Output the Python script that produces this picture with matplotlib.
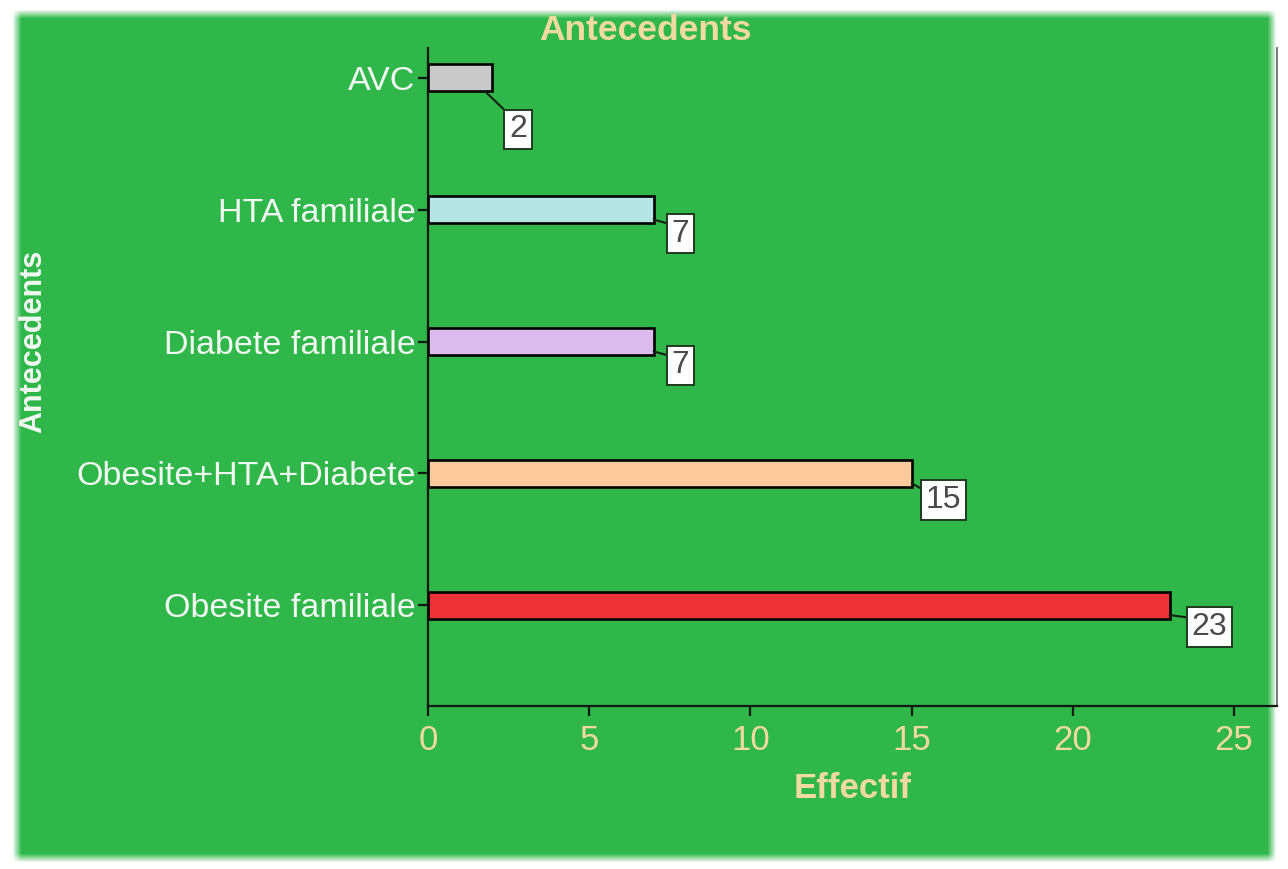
import numpy as np
import matplotlib
matplotlib.use("Agg")
import matplotlib.pyplot as plt

# Data
categories = ["Obesite familiale", "Obesite+HTA+Diabete", "Diabete familiale",
              "HTA familiale", "AVC"]
effectifs = [23, 15, 7, 7, 2]
bar_colors = ["#ee3338", "#fdcb9b", "#dcbcee", "#b5e5e5", "#c9c9c9"]
x_ticks = [0, 5, 10, 15, 20, 25]

# Label box offsets from the leader anchor point (pixels, right / down)
label_offsets_px = [(40, -12), (32, -17), (27, -14), (27, -14), (33, -38)]

W, H, DPI = 1288, 869, 100
GREEN = "#2fb749"
TAN = "#f3d9a2"
WHITE_TXT = "#f2f8f2"

plt.rcParams["font.family"] = ["Liberation Sans", "DejaVu Sans"]

fig = plt.figure(figsize=(W / DPI, H / DPI), dpi=DPI, facecolor="white")

# Green panel with feathered edges
bg = fig.add_axes([0, 0, 1, 1], zorder=-10)
bg.set_axis_off()
xs = np.arange(W) + 0.5
ys = np.arange(H) + 0.5


def ramp(v, lo, hi, feather=9.0):
    a = np.clip((v - (lo - feather / 2)) / feather, 0, 1)
    b = np.clip(((hi + feather / 2) - v) / feather, 0, 1)
    return a * b


alpha = np.outer(ramp(ys, 14, 858), ramp(xs, 17, 1272))
rgb = np.array(matplotlib.colors.to_rgb(GREEN))
img = np.ones((H, W, 4))
img[..., :3] = rgb
img[..., 3] = alpha
bg.imshow(img, extent=(0, W, H, 0), aspect="auto", interpolation="bilinear")
bg.set_xlim(0, W)
bg.set_ylim(H, 0)

# Plot area
left, right, top, bottom = 428, 1277, 48, 706
ax = fig.add_axes([left / W, (H - bottom) / H, (right - left) / W, (bottom - top) / H])
ax.patch.set_alpha(0)

pos = np.arange(len(categories))
bar_h = 0.205
ax.barh(pos, effectifs, height=bar_h, color=bar_colors, edgecolor="black",
        linewidth=1.9, zorder=3)

ax.set_xlim(0, 26.33)
ax.set_ylim(-0.765, 4.227)
ax.set_xticks(x_ticks)
ax.set_xticklabels([str(t) for t in x_ticks])
ax.set_yticks(pos)
ax.set_yticklabels(categories)

ax.tick_params(axis="x", colors="#101810", labelcolor=TAN, labelsize=25,
               length=7, width=1.6, pad=6)
ax.tick_params(axis="y", colors="#101810", labelcolor=WHITE_TXT, labelsize=24.5,
               length=7, width=1.6, pad=2)

for s in ("left", "bottom"):
    ax.spines[s].set_color("#101810")
    ax.spines[s].set_linewidth(1.6)
ax.spines["top"].set_visible(False)
ax.spines["right"].set_color("#7a7a7a")
ax.spines["right"].set_linewidth(1.4)

# Value labels in boxes with leader lines
for i, (p, v) in enumerate(zip(pos, effectifs)):
    dx, dy = label_offsets_px[i]
    if i == len(categories) - 1:
        xy = (v - 0.23, p - bar_h / 2)
        rel = (0.0, 1.0)
    else:
        xy = (v, p - 0.075)
        rel = (0.0, 0.8)
    ax.annotate(str(v), xy=xy, xytext=(dx * 0.72, dy * 0.72),
                textcoords="offset points", ha="center", va="center",
                fontsize=23, color="#4a4a4a", zorder=4,
                bbox=dict(boxstyle="square,pad=0.15", fc="white",
                          ec="#1e3a1e", lw=1.4),
                arrowprops=dict(arrowstyle="-", color="#102010", lw=1.5,
                                relpos=rel, shrinkA=0, shrinkB=0))

# Titles
fig.text(645 / W, 1 - 31 / H, "Antecedents", ha="center", va="center",
         fontsize=25.5, fontweight="bold", color=TAN)
fig.text(853 / W, 1 - 788 / H, "Effectif", ha="center", va="center",
         fontsize=25, fontweight="bold", color=TAN)
fig.text(33 / W, 1 - 341 / H, "Antecedents", ha="center", va="center",
         rotation=90, fontsize=22, fontweight="bold", color=WHITE_TXT)

fig.savefig("out.png", dpi=DPI, facecolor="white")
